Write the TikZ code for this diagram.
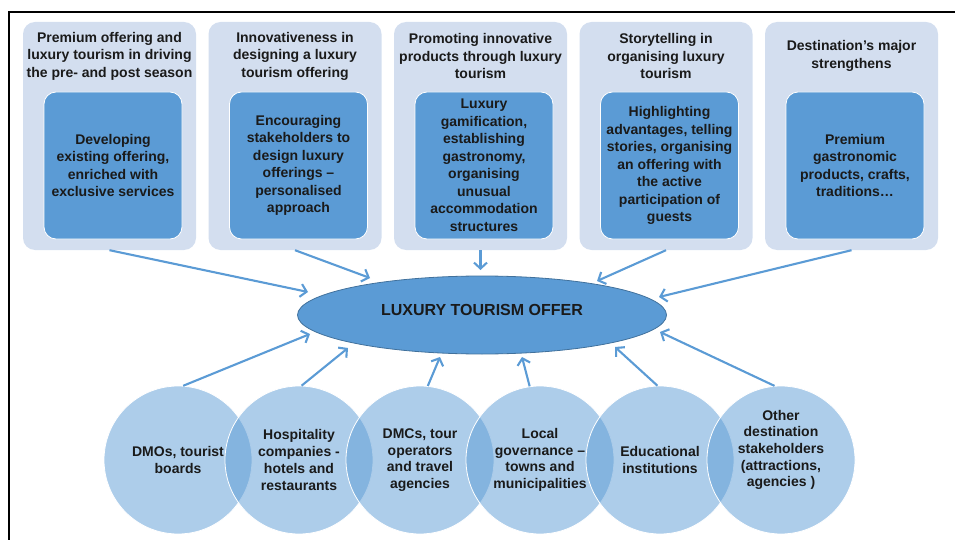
\documentclass[tikz,border=0pt]{standalone}
\usepackage{fontspec}
\setmainfont{Liberation Sans}
\usetikzlibrary{arrows.meta,shapes.geometric,calc}
\definecolor{panelbg}{HTML}{D3DEEF}
\definecolor{innerbg}{HTML}{5B9BD5}
\definecolor{arrowc}{HTML}{5B9BD5}
\definecolor{ellline}{HTML}{41719C}
\definecolor{txt}{HTML}{1A1A1A}
\begin{document}
\begin{tikzpicture}[x=1pt,y=-1pt,
  panel/.style={rectangle, rounded corners=12pt, fill=panelbg, minimum width=173pt, minimum height=228pt, inner sep=0pt},
  innerbox/.style={rectangle, rounded corners=12pt, fill=innerbg, draw=white, line width=0.8pt, minimum width=138pt, minimum height=147pt, inner sep=0pt, align=center, font=\fontsize{14}{17.5}\selectfont\bfseries, text=txt},
  lbl/.style={align=center, font=\fontsize{14}{17.5}\selectfont\bfseries, text=txt, inner sep=0pt},
  ctext/.style={align=center, font=\fontsize{14}{16.7}\selectfont\bfseries, text=txt, inner sep=0pt, fill=none, draw=none},
  circ/.style={circle, minimum size=148pt, inner sep=0pt, fill=innerbg, fill opacity=0.5, draw=white, draw opacity=1, line width=0.8pt},
  arr/.style={draw=arrowc, line width=2.1pt, -{Straight Barb[length=6pt,width=13pt]}},
]
\useasboundingbox (0,0) rectangle (955,540);
\draw[line width=1.6pt] (9,545) -- (9,12) -- (960,12);

% top panels
\foreach \i/\x in {1/109.5,2/295,3/480.5,4/666,5/851.5}{
  \node[panel] (p\i) at (\x,136) {};
}
\node[lbl] (h1) at (109.5,56) {Premium offering and\\luxury tourism in driving\\the pre- and post season};
\node[lbl] (h2) at (295,56) {Innovativeness in\\designing a luxury\\tourism offering};
\node[lbl] (h3) at (480.5,56) {Promoting innovative\\products through luxury\\tourism};
\node[lbl] (h4) at (666,56) {Storytelling in\\organising luxury\\tourism};
\node[lbl] (h5) at (851.5,56) {Destination’s major\\strengthens};

\node[innerbox] (i1) at (113,165.5) {Developing\\existing offering,\\enriched with\\exclusive services};
\node[innerbox] (i2) at (298.5,165.5) {Encouraging\\stakeholders to\\design luxury\\offerings –\\personalised\\approach};
\node[innerbox] (i3) at (484,165.5) {Luxury\\gamification,\\establishing\\gastronomy,\\organising\\unusual\\accommodation\\structures};
\node[innerbox] (i4) at (669.5,165.5) {Highlighting\\advantages, telling\\stories, organising\\an offering with\\the active\\participation of\\guests};
\node[innerbox] (i5) at (855,165.5) {Premium\\gastronomic\\products, crafts,\\traditions…};

% central ellipse
\node[ellipse, minimum width=369pt, minimum height=78pt, inner sep=0pt, fill=innerbg, draw=ellline, line width=0.8pt,
      font=\fontsize{16}{19}\selectfont\bfseries, text=txt, text height=11.5pt, text depth=10pt] (offer) at (482,315) {LUXURY TOURISM OFFER};

% bottom circles
\node[circ, label={[ctext]center:DMOs, tourist\\boards}] (c1) at (178,460) {};
\node[circ, label={[ctext]center:Hospitality\\companies -\\hotels and\\restaurants}] (c2) at (299,460) {};
\node[circ, label={[ctext]center:DMCs, tour\\operators\\and travel\\agencies}] (c3) at (420,460) {};
\node[circ, label={[ctext]center:Local\\governance –\\towns and\\municipalities}] (c4) at (540,460) {};
\node[circ, label={[ctext]center:Educational\\institutions}] (c5) at (660,460) {};
\node[circ, label={[ctext,yshift=10pt]center:Other\\destination\\stakeholders\\(attractions,\\agencies )}] (c6) at (781,460) {};

% arrow targets near the ellipse
\coordinate (t1) at (308,292);
\coordinate (t2) at (370,278);
\coordinate (t3) at (480.5,270);
\coordinate (t4) at (597,281);
\coordinate (t5) at (659,297);
\coordinate (b1) at (310,334);
\coordinate (b2) at (348,348);
\coordinate (b3) at (440,357);
\coordinate (b4) at (522,357);
\coordinate (b5) at (615,347);
\coordinate (b6) at (660,332);

\draw[arr] (p1.south) -- (t1);
\draw[arr] (p2.south) -- (t2);
\draw[arr] (p3.south) -- (t3);
\draw[arr] (p4.south) -- (t4);
\draw[arr] (p5.south) -- (t5);

\draw[arr] (c1.86) -- (b1);
\draw[arr] (c2.88) -- (b2);
\draw[arr] (c3.84) -- (b3);
\draw[arr] (c4.98) -- (b4);
\draw[arr] (c5.92) -- (b5);
\draw[arr] (c6.95) -- (b6);
\end{tikzpicture}
\end{document}
